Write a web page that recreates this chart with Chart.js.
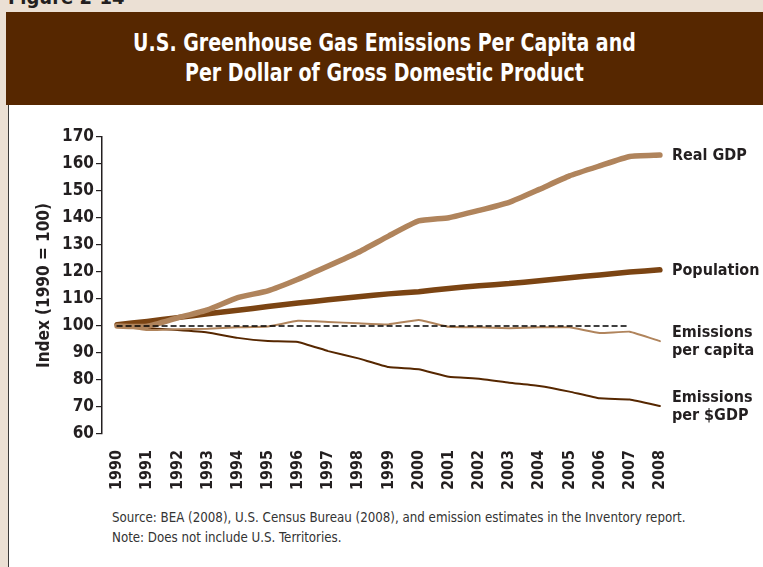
<!DOCTYPE html>
<html>
<head>
<meta charset="utf-8">
<script src="https://cdn.jsdelivr.net/npm/chart.js@4.4.1/dist/chart.umd.min.js"></script>
<style>
  html, body { margin: 0; padding: 0; }
  body { width: 763px; height: 567px; background: #ebe0d4; position: relative; overflow: hidden;
         font-family: 'DejaVu Sans Condensed', 'Liberation Sans', sans-serif; }
  #fig { position: absolute; left: 8px; top: -15px; font-size: 20px; font-weight: bold; color: #231f20; }
  #head { position: absolute; left: 6px; top: 12px; width: 757px; height: 93px; background: #562700; }
  #headtxt { position: absolute; left: 0; top: 16px; width: 757px; color: #fff; font-weight: bold;
             font-size: 24px; line-height: 30px; text-align: center; transform: scaleX(0.88); transform-origin: 378px 0; }
  #panel { position: absolute; left: 8px; top: 105px; width: 755px; height: 462px; background: #fff;
           border-left: 1px solid #3a3a3a; box-sizing: border-box; }
  #wrap { position: absolute; left: 8px; top: 105px; width: 755px; height: 387px; }
  #note { position: absolute; left: 112px; top: 507px; font-size: 14.5px; line-height: 20px; color: #333;
          white-space: nowrap; transform: scaleX(0.91); transform-origin: 0 0; }
</style>
</head>
<body>
<div id="fig">Figure 2-14</div>
<div id="head"><div id="headtxt">U.S. Greenhouse Gas Emissions Per Capita and<br>Per Dollar of Gross Domestic Product</div></div>
<div id="panel"></div>
<div id="wrap"><canvas id="chart" width="755" height="387"></canvas></div>
<div id="note">Source: BEA (2008), U.S. Census Bureau (2008), and emission estimates in the Inventory report.<br>Note: Does not include U.S. Territories.</div>
<script>
const years = ['1990','1991','1992','1993','1994','1995','1996','1997','1998','1999',
               '2000','2001','2002','2003','2004','2005','2006','2007','2008'];
const realGdp = [100, 99.9, 103, 106, 110.5, 113, 117.3, 122.2, 127.3, 133.3,
                 138.9, 140.1, 142.8, 145.8, 150.6, 155.6, 159.3, 162.8, 163.3];
const population = [100.5, 101.7, 103.1, 104.5, 105.8, 107.2, 108.5, 109.7, 110.8, 111.9,
                     112.7, 113.9, 114.9, 115.7, 116.8, 117.9, 118.9, 120, 120.8];
const emissionsPerCapita = [100.3, 98.5, 98.8, 99, 99.5, 99.8, 101.9, 101.5, 101, 100.6,
                            102.2, 99.7, 99.5, 99.2, 99.5, 99.5, 97.4, 97.9, 94.4];
const emissionsPerGdp = [100.3, 99.2, 98.5, 97.6, 95.6, 94.4, 94.1, 90.7, 88, 84.8,
                         84, 81.2, 80.5, 79, 77.8, 75.7, 73.2, 72.8, 70.4];
const baseline = [100, 100, 100, 100, 100, 100, 100, 100, 100, 100,
                  100, 100, 100, 100, 100, 100, 100, 100, null];
const yTicks = [60, 70, 80, 90, 100, 110, 120, 130, 140, 150, 160, 170];

const FONT = "'DejaVu Sans Condensed', 'Liberation Sans', sans-serif";

// labels at the right end of each line
const endLabels = {
  id: 'endLabels',
  afterDatasetsDraw(chart) {
    const ctx = chart.ctx;
    ctx.save();
    ctx.font = 'bold 16px ' + FONT;
    ctx.fillStyle = '#231f20';
    ctx.textBaseline = 'middle';
    chart.data.datasets.forEach((ds, i) => {
      if (!ds.endLabel) return;
      const pts = chart.getDatasetMeta(i).data;
      const p = pts[pts.length - 1];
      const lines = ds.endLabel;
      const lh = 18;
      lines.forEach((t, k) => {
        ctx.fillText(t, p.x + 12, p.y + 1 + (k - (lines.length - 1) / 2) * lh);
      });
    });
    ctx.restore();
  }
};

new Chart(document.getElementById('chart'), {
  type: 'line',
  data: {
    labels: years,
    datasets: [
      { label: 'base', data: baseline, borderColor: '#000', borderWidth: 1.4, borderDash: [5, 4], pointRadius: 0 },
      { label: 'Real GDP', endLabel: ['Real GDP'], data: realGdp, borderColor: '#b0845c', borderWidth: 5.5, pointRadius: 0, tension: 0.15 },
      { label: 'Population', endLabel: ['Population'], data: population, borderColor: '#7b4413', borderWidth: 5.5, pointRadius: 0, tension: 0.15 },
      { label: 'Emissions per capita', endLabel: ['Emissions', 'per capita'], data: emissionsPerCapita, borderColor: '#b0845c', borderWidth: 2, pointRadius: 0, tension: 0.1 },
      { label: 'Emissions per $GDP', endLabel: ['Emissions', 'per $GDP'], data: emissionsPerGdp, borderColor: '#562700', borderWidth: 2, pointRadius: 0, tension: 0.1 }
    ].map(d => Object.assign({ borderCapStyle: 'round', borderJoinStyle: 'round', fill: false }, d))
  },
  options: {
    responsive: false,
    animation: false,
    devicePixelRatio: 1,
    layout: { padding: { top: 32, left: 26, right: 88, bottom: 0 } },
    plugins: { legend: { display: false }, tooltip: { enabled: false } },
    scales: {
      x: {
        offset: true,
        grid: { display: false },
        border: { display: false },
        ticks: { color: '#231f20', font: { family: FONT, size: 16, weight: 'bold' },
                 maxRotation: 90, minRotation: 90, padding: 8, autoSkip: false },
        afterFit(s) { s.height = 58; }
      },
      y: {
        min: 60, max: 170,
        afterBuildTicks(s) { s.ticks = yTicks.map(v => ({ value: v })); },
        grid: { drawOnChartArea: false, drawTicks: true, tickLength: 6, color: '#231f20', lineWidth: 1.2 },
        border: { display: true, color: '#231f20', width: 1.5 },
        ticks: { color: '#231f20', font: { family: FONT, size: 17, weight: 'bold' }, padding: 2 },
        title: { display: true, text: 'Index (1990 = 100)', color: '#231f20',
                 font: { family: FONT, size: 17, weight: 'bold' }, padding: { top: 0, bottom: 0 } },
        afterFit(s) { s.width = 68; }
      }
    }
  },
  plugins: [endLabels]
});
</script>
</body>
</html>
